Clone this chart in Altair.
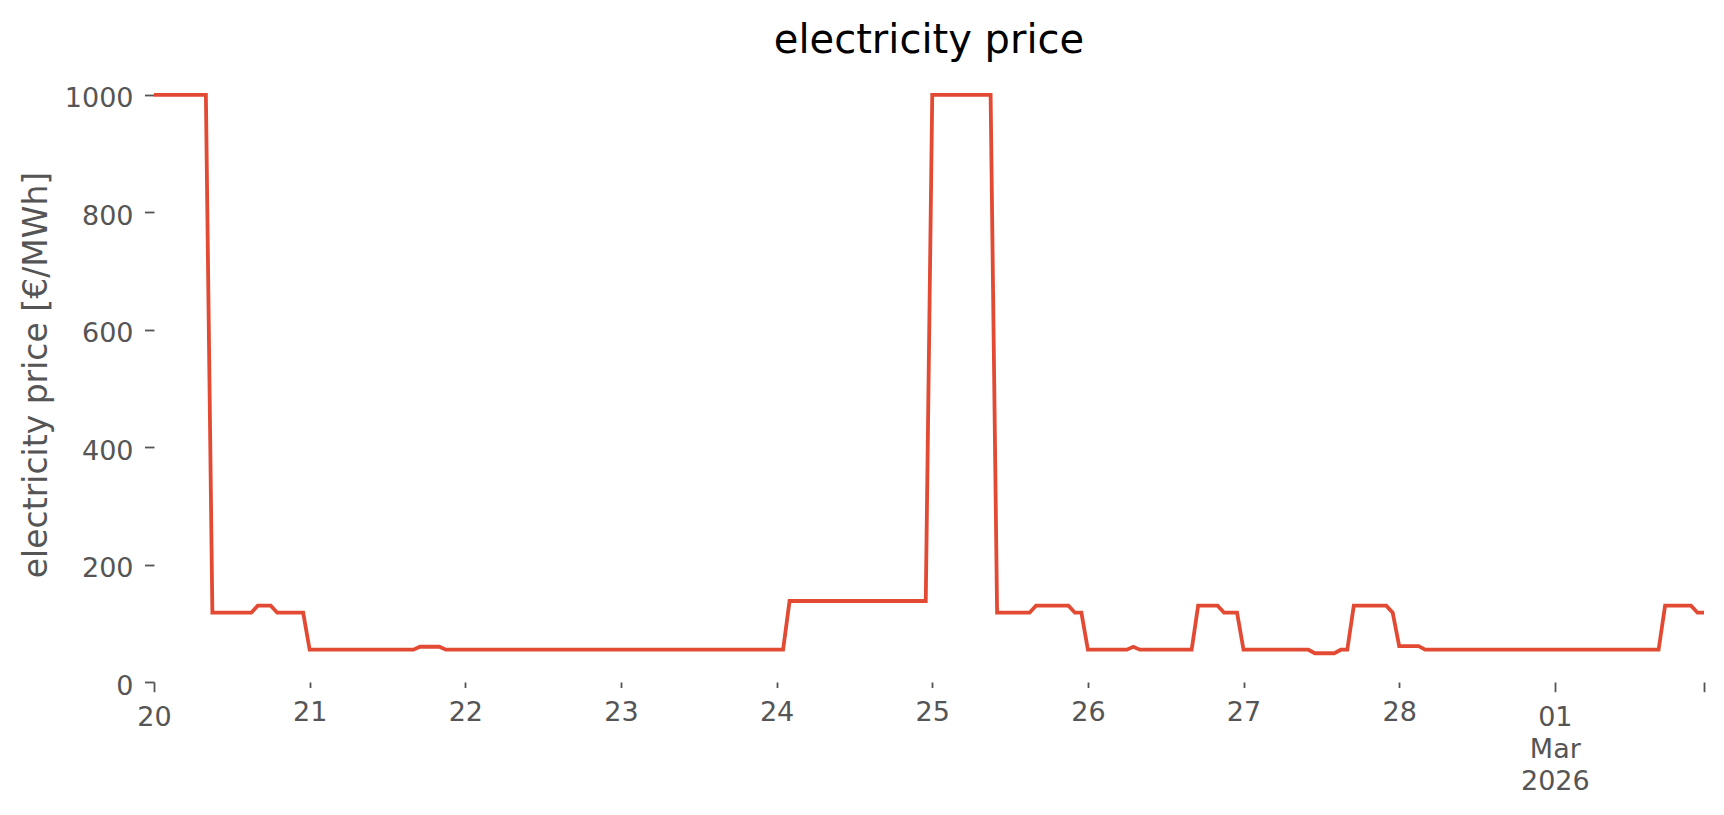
import altair as alt
import pandas as pd

# hourly electricity price [€/MWh], one list per day (Feb 20 – Mar 1, 2026)
feb20 = [1000, 1000, 1000, 1000, 1000, 1000, 1000, 1000, 1000, 118, 118, 118,
         118, 118, 118, 118, 130, 130, 130, 118, 118, 118, 118, 118]
feb21 = [55, 55, 55, 55, 55, 55, 55, 55, 55, 55, 55, 55,
         55, 55, 55, 55, 55, 60, 60, 60, 60, 55, 55, 55]
feb22 = [55, 55, 55, 55, 55, 55, 55, 55, 55, 55, 55, 55,
         55, 55, 55, 55, 55, 55, 55, 55, 55, 55, 55, 55]
feb23 = [55, 55, 55, 55, 55, 55, 55, 55, 55, 55, 55, 55,
         55, 55, 55, 55, 55, 55, 55, 55, 55, 55, 55, 55]
feb24 = [55, 55, 138, 138, 138, 138, 138, 138, 138, 138, 138, 138,
         138, 138, 138, 138, 138, 138, 138, 138, 138, 138, 138, 138]
feb25 = [1000, 1000, 1000, 1000, 1000, 1000, 1000, 1000, 1000, 1000, 118, 118,
         118, 118, 118, 118, 130, 130, 130, 130, 130, 130, 118, 118]
feb26 = [55, 55, 55, 55, 55, 55, 55, 60, 55, 55, 55, 55,
         55, 55, 55, 55, 55, 130, 130, 130, 130, 118, 118, 118]
feb27 = [55, 55, 55, 55, 55, 55, 55, 55, 55, 55, 55, 49,
         49, 49, 49, 55, 55, 130, 130, 130, 130, 130, 130, 118]
feb28 = [61, 61, 61, 61, 55, 55, 55, 55, 55, 55, 55, 55,
         55, 55, 55, 55, 55, 55, 55, 55, 55, 55, 55, 55]
mar01 = [55, 55, 55, 55, 55, 55, 55, 55, 55, 55, 55, 55,
         55, 55, 55, 55, 55, 130, 130, 130, 130, 130, 118, 118]

days = ["2026-02-20", "2026-02-21", "2026-02-22", "2026-02-23", "2026-02-24",
        "2026-02-25", "2026-02-26", "2026-02-27", "2026-02-28", "2026-03-01"]
day_values = [feb20, feb21, feb22, feb23, feb24, feb25, feb26, feb27, feb28, mar01]

rows = []
for d, vals in zip(days, day_values):
    for h, v in enumerate(vals):
        rows.append({"time": f"{d}T{h:02d}:00:00", "price": v})
df = pd.DataFrame(rows)

x_start = alt.DateTime(year=2026, month=2, date=20, hours=0)
x_end = alt.DateTime(year=2026, month=3, date=1, hours=23)
tick_values = [alt.DateTime(year=2026, month=2, date=d) for d in range(20, 29)] + \
              [alt.DateTime(year=2026, month=3, date=1), x_end]

FONT = "DejaVu Sans"
GREY = "#555555"
major_test = "(date(datum.value) == 20 && hours(datum.value) == 0) || (date(datum.value) == 1)"

x_axis = alt.Axis(
    values=tick_values,
    labelExpr=("date(datum.value) == 1 && hours(datum.value) == 0 ? ['01', 'Mar', '2026'] : "
               "(hours(datum.value) == 23 ? '' : timeFormat(datum.value, '%d'))"),
    title=None,
    domain=False,
    grid=False,
    labelFont=FONT,
    labelFontSize=27,
    labelColor=GREY,
    labelLineHeight=32.2,
    labelFlush=False,
    labelOverlap=False,
    labelBound=False,
    labelAlign="center",
    labelBaseline="top",
    tickColor=GREY,
    tickWidth=1.8,
    tickSize={"condition": {"test": major_test, "value": 9.7}, "value": 5.5},
    labelPadding={"condition": {"test": major_test, "value": 12.3}, "value": 11.7},
)

y_axis = alt.Axis(
    values=[0, 200, 400, 600, 800, 1000],
    format="d",
    title="electricity price [€/MWh]",
    titleFont=FONT,
    titleFontSize=33,
    titleFontWeight="normal",
    titleColor=GREY,
    titleAngle=270,
    titleAlign="center",
    titleBaseline="alphabetic",
    titleX=-107.5,
    titleY=307.5,
    domain=False,
    grid=False,
    labelFont=FONT,
    labelFontSize=27,
    labelColor=GREY,
    labelBaseline="alphabetic",
    labelOffset=12,
    labelPadding=11.5,
    labelFlush=False,
    tickColor=GREY,
    tickWidth=1.8,
    tickSize=9.5,
)

chart = alt.Chart(df).mark_line(color="#E24A33", strokeWidth=3.8).encode(
    x=alt.X("time:T", axis=x_axis,
            scale=alt.Scale(domain=[x_start, x_end], nice=False)),
    y=alt.Y("price:Q", axis=y_axis,
            scale=alt.Scale(domain=[0, 1047.5], nice=False, zero=True)),
).properties(
    width=1550,
    height=615,
    title=alt.TitleParams(
        "electricity price",
        font=FONT,
        fontSize=40,
        fontWeight="normal",
        color="black",
        anchor="middle",
        baseline="alphabetic",
        offset=16,
        dy=42,
    ),
    autosize=alt.AutoSizeParams(type="none"),
    padding={"left": 146, "top": 59, "right": 12, "bottom": 130},
).configure(background="white").configure_view(stroke=None, strokeWidth=0)

chart.save("out.html", embed_options={"renderer": "svg", "actions": False})
